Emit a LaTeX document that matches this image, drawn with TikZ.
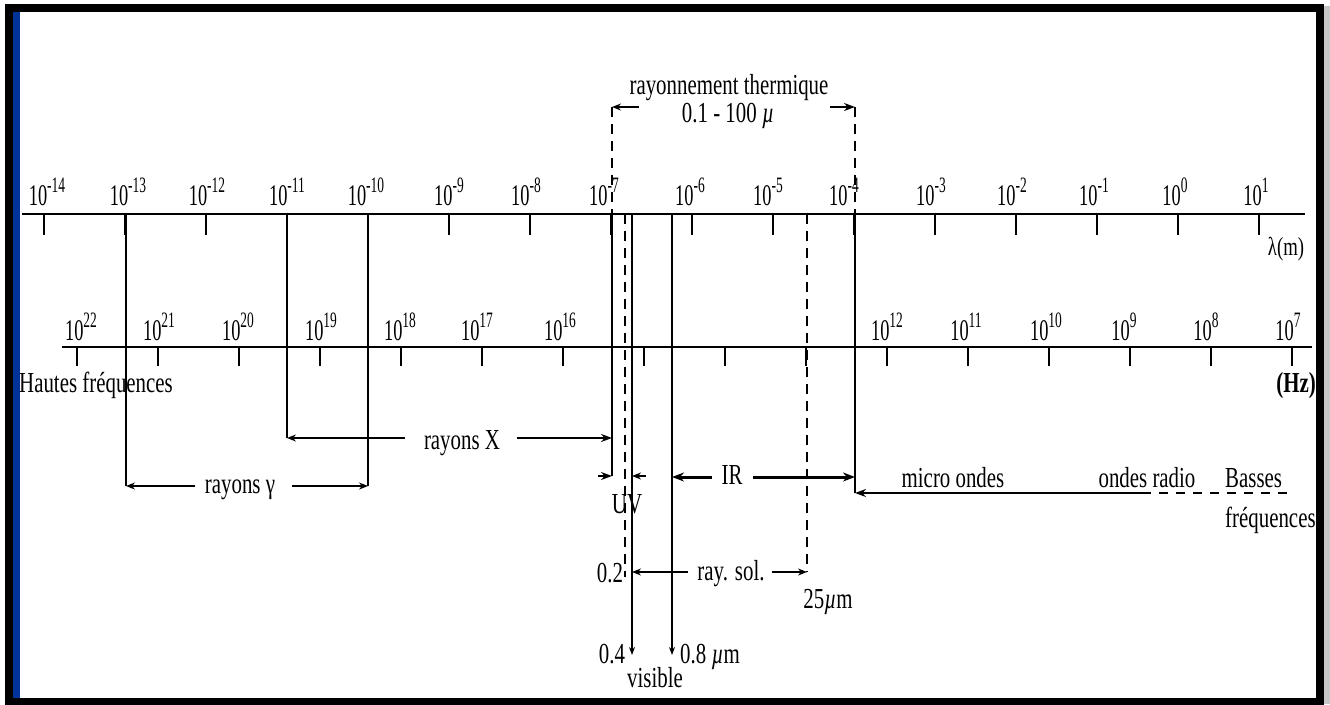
\documentclass[tikz,border=0pt]{standalone}
\usepackage{fontspec}
\setmainfont[FakeStretch=0.72]{Liberation Serif}
\usetikzlibrary{arrows.meta}
\definecolor{frameblue}{HTML}{003399}
\newcommand\tenp[1]{10\raisebox{13pt}{\fontsize{22}{22}\selectfont #1}}
\begin{document}
\begin{tikzpicture}[x=1pt,y=-1pt,
  txt/.style={font=\fontsize{29}{32}\selectfont, inner sep=0pt, anchor=base},
  numlbl/.style={font=\fontsize{30}{34}\selectfont, inner sep=0pt, anchor=base, xscale=0.85},
  axisline/.style={line width=2.2pt},
  vline/.style={line width=1.3pt},
  thickv/.style={line width=2.6pt},
  tk/.style={line width=1.3pt},
  tkb/.style={line width=2.4pt},
  dsh/.style={line width=1.3pt, dash pattern=on 10pt off 7pt},
  thin arrow/.style={line width=1.3pt, -{Stealth[length=9pt,width=7pt]}},
  mid arrow/.style={line width=2pt, -{Stealth[length=11pt,width=8pt]}},
  bold arrow/.style={line width=3pt, -{Stealth[length=12pt,width=9pt]}},
]
\useasboundingbox (0,0) rectangle (1330,704);
\fill[white] (0,0) rectangle (1330,704);
% frame
\fill[gray!45] (1323,6) rectangle (1330,704);
\draw[line width=8pt] (8.5,8) rectangle (1319.5,702);
\fill[frameblue] (12.5,12) rectangle (19.5,698);

% wavelength axis
\coordinate (LA) at (22,214);
\coordinate (LB) at (1305,214);
\draw[axisline] (LA) -- (LB);
\foreach \i in {0,...,15} {
  \coordinate (lt\i) at ({44+81*\i},214);
  \draw[tk] (lt\i) -- ++(0,21);
}
\draw[tkb] (lt8) -- ++(0,21);
\draw[tkb] (lt13) -- ++(0,21);
\foreach \e/\x [count=\k] in {-14/47,-13/128,-12/207,-11/287,-10/366,-9/449,-8/526,-7/604,-6/690,-5/768,-4/844,-3/931,-2/1012,-1/1094,0/1175,1/1256}
  \node[numlbl] (lam\k) at (\x,205) {\tenp{\e}};
\node[txt, font=\fontsize{26}{30}\selectfont] (lamunit) at (1286,255) {λ(m)};

% frequency axis
\coordinate (FA) at (62,347);
\coordinate (FB) at (1312,347);
\draw[axisline] (FA) -- (FB);
\foreach \i in {0,...,15} {
  \coordinate (ft\i) at ({77+81*\i},347);
  \draw[tk] (ft\i) -- ++(0,19);
}
\draw[tkb] (ft2) -- ++(0,19);
\draw[tkb] (ft7) -- ++(0,19);
\draw[tkb] (ft12) -- ++(0,19);
\foreach \e/\x [count=\k] in {22/81,21/159,20/238,19/321,18/400,17/477,16/560,12/887,11/966,10/1046,9/1124,8/1206,7/1288}
  \node[numlbl] (fr\k) at (\x,340) {\tenp{\e}};
\node[txt, anchor=base west] (haut) at (19,392) {Hautes fréquences};
\node[txt, font=\fontsize{29}{32}\selectfont\bfseries] (hz) at (1296,392) {(Hz)};

% vertical boundary lines
\coordinate (g1t) at (126,214); \coordinate (g1b) at (126,486);
\coordinate (x1t) at (287,214); \coordinate (x1b) at (287,438);
\coordinate (g2t) at (368,214); \coordinate (g2b) at (368,486);
\coordinate (u1a) at (612,107); \coordinate (u1t) at (612,214); \coordinate (u1b) at (612,476);
\coordinate (u2t) at (625,214); \coordinate (u2b) at (625,577);
\coordinate (v1t) at (632,214); \coordinate (v1b) at (632,655);
\coordinate (v2t) at (672,214); \coordinate (v2b) at (672,655);
\coordinate (s1t) at (807,214); \coordinate (s1b) at (807,572);
\coordinate (m1a) at (855,107); \coordinate (m1t) at (855,214); \coordinate (m1b) at (855,493);
\draw[vline] (g1t) -- (g1b);
\draw[thickv] (x1t) -- (x1b);
\draw[vline] (g2t) -- (g2b);
\draw[dsh] (u1a) -- (u1t);
\draw[vline] (u1t) -- (u1b);
\draw[dsh] (u2t) -- (u2b);
\draw[vline, -{Stealth[length=8pt,width=6pt]}] (v1t) -- (v1b);
\draw[vline, -{Stealth[length=8pt,width=6pt]}] (v2t) -- (v2b);
\draw[dsh] (s1t) -- (s1b);
\draw[dsh] (m1a) -- (m1t);
\draw[vline] (m1t) -- (m1b);

% rayonnement thermique
\node[txt] (therm) at (729,94) {rayonnement thermique};
\node[txt] (therm2) at (728,122) {0.1 - 100 {\itshape µ}};
\coordinate (th1) at (639,107); \coordinate (th2) at (830,107);
\draw[thin arrow] (th1) -- (u1a);
\draw[mid arrow] (th2) -- (m1a);

% rayons gamma
\node[txt] (gam) at (240,493) {rayons γ};
\coordinate (ga1) at (195,486); \coordinate (ga2) at (292,486);
\draw[thin arrow] (ga1) -- (g1b);
\draw[thin arrow] (ga2) -- (g2b);

% rayons X
\node[txt] (rx) at (462,449) {rayons X};
\coordinate (xa1) at (405,438); \coordinate (xa2) at (517,438); \coordinate (xa3) at (612,438);
\draw[thin arrow] (xa1) -- (x1b);
\draw[mid arrow] (xa2) -- (xa3);

% UV
\node[txt] (uv) at (627,513) {UV};
\coordinate (uva) at (598,476); \coordinate (uvb) at (646,476); \coordinate (uvc) at (632,476);
\draw[mid arrow, line width=1.5pt] (uva) -- (u1b);
\draw[thin arrow] (uvb) -- (uvc);

% IR
\node[txt] (ir) at (732,484) {IR};
\coordinate (ira) at (712,477); \coordinate (irb) at (672,477);
\coordinate (irc) at (753,477); \coordinate (ird) at (855,477);
\draw[bold arrow] (ira) -- (irb);
\draw[bold arrow] (irc) -- (ird);

% micro ondes / radio
\coordinate (mo1) at (1142,493); \coordinate (mo2) at (1293,493);
\draw[mid arrow] (mo1) -- (m1b);
\draw[line width=1.6pt, dash pattern=on 9pt off 8pt] (mo1) -- (mo2);
\node[txt] (micro) at (953,487) {micro ondes};
\node[txt] (radio) at (1147,487) {ondes radio};
\node[txt, anchor=base west] (basses) at (1225,487) {Basses};
\node[txt, anchor=base west] (freqb) at (1225,527) {fréquences};

% rayonnement solaire
\coordinate (rs1) at (688,572); \coordinate (rs2) at (632,572);
\coordinate (rs3) at (772,572);
\draw[thin arrow] (rs1) -- (rs2);
\draw[thin arrow] (rs3) -- (s1b);
\node[txt] (raysol) at (731,580) {ray. sol.};
\node[txt] (p2) at (610,582) {0.2};
\node[txt] (p25) at (828,608) {25{\itshape µ}m};

% visible
\node[txt] (p4) at (612,663) {0.4};
\node[txt, anchor=base west] (p8) at (680,663) {0.8 {\itshape µ}m};
\node[txt] (vis) at (655,687) {visible};
\end{tikzpicture}
\end{document}
